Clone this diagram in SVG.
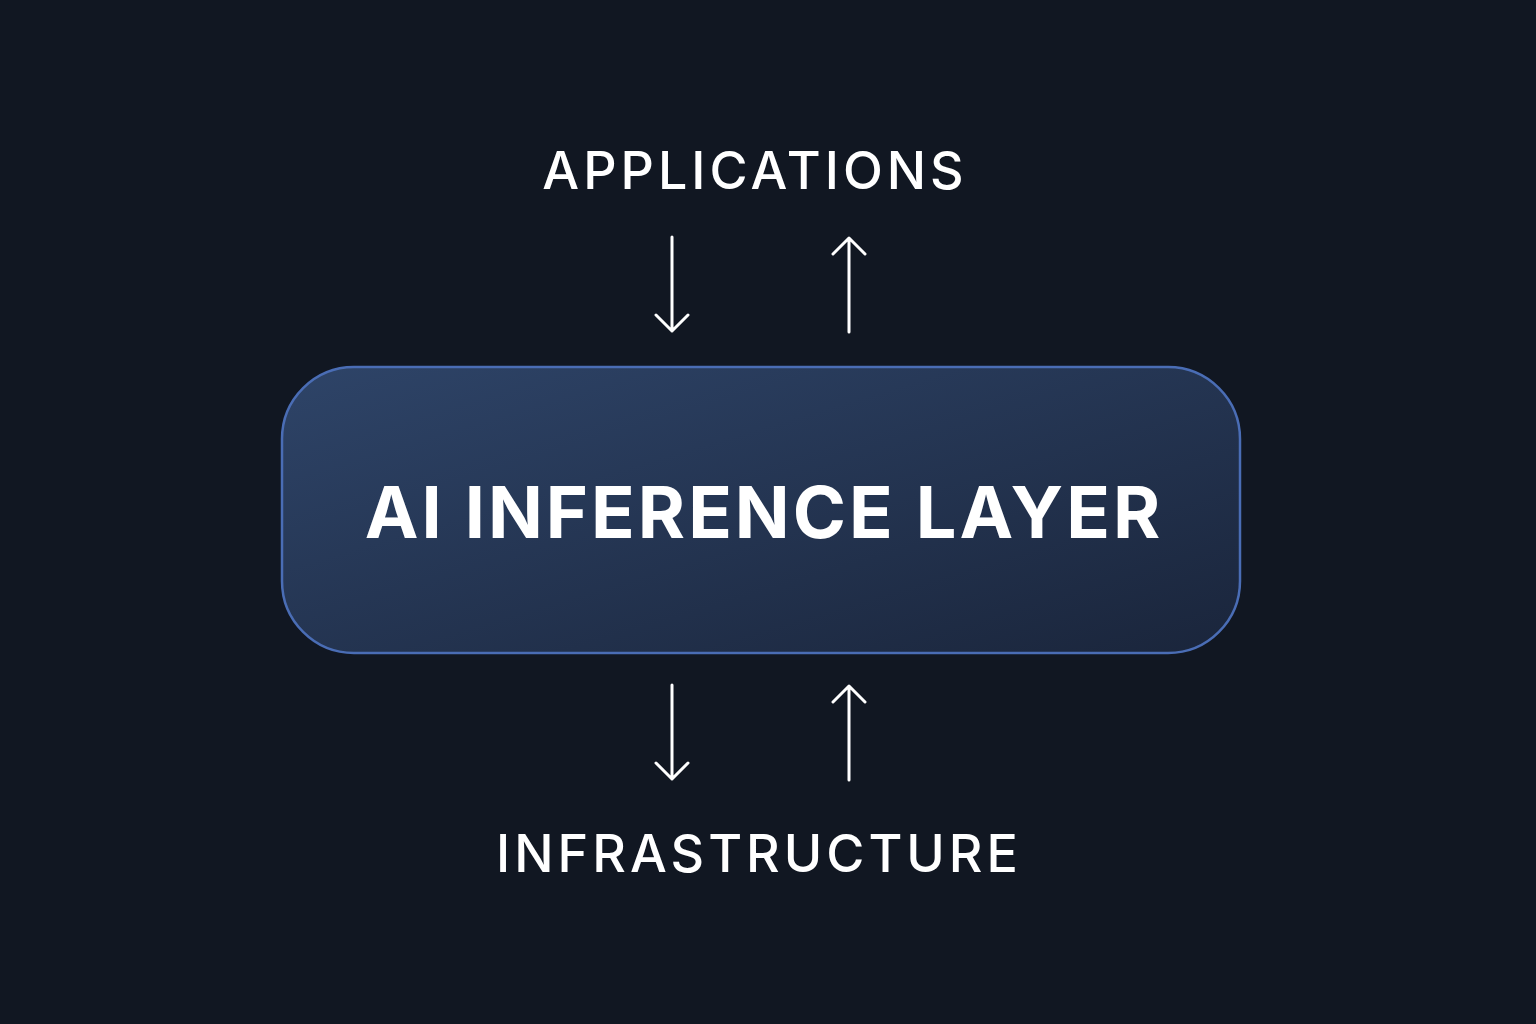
<svg xmlns="http://www.w3.org/2000/svg" width="1536" height="1024" viewBox="0 0 1536 1024">
<defs>
<linearGradient id="g" x1="0" y1="0" x2="1" y2="1">
<stop offset="0" stop-color="#2e4468"/><stop offset="1" stop-color="#1a253b"/>
</linearGradient>
<style>
.lbl{font-family:Inter,"Liberation Sans",sans-serif;fill:#fff;text-anchor:middle}
.ar{stroke:#fff;stroke-width:3;fill:none;stroke-linecap:round;stroke-linejoin:round}
</style>
</defs>
<rect width="1536" height="1024" fill="#111722"/>
<g id="applications"><text class="lbl" x="755" y="189" font-size="52" font-weight="500" letter-spacing="4">APPLICATIONS</text></g>
<g id="inference">
<rect x="282" y="367" width="958" height="286" rx="72" fill="url(#g)" stroke="#4a6db5" stroke-width="2.5"/>
<text class="lbl" x="764" y="538" font-size="72" font-weight="700" letter-spacing="3">AI INFERENCE LAYER</text>
</g>
<g id="infrastructure"><text class="lbl" x="759" y="872" font-size="52" font-weight="500" letter-spacing="4">INFRASTRUCTURE</text></g>
<g id="connectors" class="ar">
<path d="M672 237V331M656 315L672 331L688 315"/>
<path d="M849 332V238M833 254L849 238L865 254"/>
<path d="M672 685V779M656 763L672 779L688 763"/>
<path d="M849 780V686M833 702L849 686L865 702"/>
</g>
</svg>
